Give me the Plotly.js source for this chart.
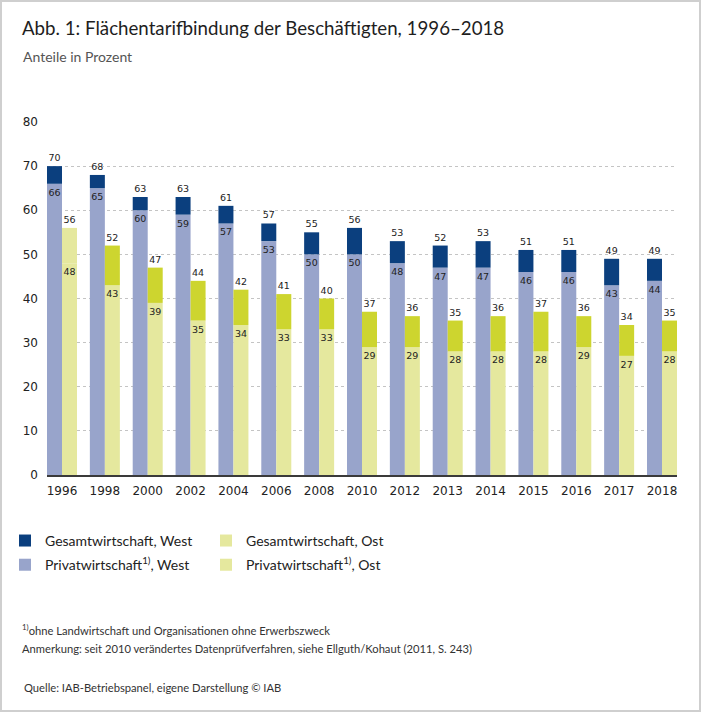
<!DOCTYPE html>
<html>
<head>
<meta charset="utf-8">
<script src="https://cdn.plot.ly/plotly-3.0.1.min.js"></script>
<style>
  html, body { margin: 0; padding: 0; background: #fff; }
  #wrap { position: relative; width: 701px; height: 712px; }
  #frame { position: absolute; left: 0; top: 0; width: 697px; height: 708px;
           border: 2px solid #cfcfcf; pointer-events: none; }
</style>
</head>
<body>
<div id="wrap">
  <div id="chart" style="width:701px;height:712px;"></div>
  <div id="frame"></div>
</div>
<script>
// Flächentarifbindung der Beschäftigten, Anteile in Prozent
const years = ['1996', '1998', '2000', '2002', '2004', '2006', '2008', '2010',
               '2012', '2013', '2014', '2015', '2016', '2017', '2018'];
const gesamtWest = [70, 68, 63, 63, 61, 57, 55, 56, 53, 52, 53, 51, 51, 49, 49];
const privatWest = [66, 65, 60, 59, 57, 53, 50, 50, 48, 47, 47, 46, 46, 43, 44];
const gesamtOst  = [56, 52, 47, 44, 42, 41, 40, 37, 36, 35, 36, 37, 36, 34, 35];
const privatOst  = [48, 43, 39, 35, 34, 33, 33, 29, 29, 28, 28, 28, 29, 27, 28];
const yTicks = [0, 10, 20, 30, 40, 50, 60, 70, 80];

const NAVY = '#0b3f7e';
const LILAC = '#98a4cb';
const LIME = '#cdd52f';
const PALE = '#e5e89e';

const sans = 'Lato, "Noto Sans", sans-serif';
const num = '"DejaVu Sans", sans-serif';

// plot area in pixels
const L = 47, R = 677, T = 121.5, B = 475;
const px = x => (x - L) / (R - L);
const py = y => (B - y) / (B - T);

const labelFont = { family: num, size: 9.5, color: '#222' };

function diff(a, b) {
  return a.map((v, i) => v - b[i]);
}

const common = {
  type: 'bar',
  x: years,
  hoverinfo: 'skip',
  textangle: 0,
  constraintext: 'none',
  cliponaxis: false,
  textfont: labelFont,
  insidetextfont: labelFont,
  outsidetextfont: labelFont
};

const traces = [
  Object.assign({}, common, {
    name: 'Privatwirtschaft<sup>1)</sup>, West',
    y: privatWest, offsetgroup: 'west',
    marker: { color: LILAC },
    text: privatWest.map(String), textposition: 'inside', insidetextanchor: 'end',
    legend: 'legend', legendgroup: 'pw', legendrank: 2
  }),
  Object.assign({}, common, {
    name: 'Gesamtwirtschaft, West',
    y: diff(gesamtWest, privatWest), base: privatWest, offsetgroup: 'west',
    marker: { color: NAVY },
    text: gesamtWest.map(String), textposition: 'outside',
    legend: 'legend', legendgroup: 'gw', legendrank: 1
  }),
  Object.assign({}, common, {
    name: 'Privatwirtschaft<sup>1)</sup>, Ost',
    y: privatOst, offsetgroup: 'ost',
    marker: { color: PALE },
    text: privatOst.map(String), textposition: 'inside', insidetextanchor: 'end',
    legend: 'legend2', legendgroup: 'po', legendrank: 2
  }),
  Object.assign({}, common, {
    name: 'Gesamtwirtschaft, Ost',
    y: diff(gesamtOst, privatOst), base: privatOst, offsetgroup: 'ost',
    // 1996 has no separate segment in the original figure
    marker: { color: years.map(y => y === '1996' ? PALE : LIME) },
    text: gesamtOst.map(String), textposition: 'outside',
    legend: 'legend2', legendgroup: 'go', legendrank: 1
  }),
  // invisible trace just to carry the dotted grid
  { type: 'scatter', x: [years[0]], y: [0], yaxis: 'y2', mode: 'markers',
    marker: { opacity: 0 }, showlegend: false, hoverinfo: 'skip' }
];

const legendBase = {
  orientation: 'v',
  font: { family: sans, size: 14, color: '#222' },
  bgcolor: 'rgba(0,0,0,0)',
  yanchor: 'top',
  xanchor: 'left',
  tracegroupgap: 3,
  traceorder: 'grouped',
  itemclick: false,
  itemdoubleclick: false
};

const layout = {
  width: 701,
  height: 712,
  margin: { l: L, r: 701 - R, t: T, b: 712 - B, pad: 0, autoexpand: false },
  paper_bgcolor: '#fff',
  plot_bgcolor: '#fff',
  font: { family: sans, color: '#222' },
  showlegend: true,
  barmode: 'group',
  bargap: 0.3,
  bargroupgap: 0,
  title: {
    text: 'Abb. 1: Flächentarifbindung der Beschäftigten, 1996–2018',
    font: { family: sans, size: 18.7, color: '#1e1e1e' },
    xref: 'container', yref: 'container',
    x: 22 / 701, xanchor: 'left',
    y: 1 - 28 / 712, yanchor: 'middle'
  },
  xaxis: {
    type: 'category',
    range: [-0.35, years.length - 1 + 0.35],
    showgrid: false,
    showline: true, linecolor: '#3a3a3a', linewidth: 1.5,
    ticks: '',
    tickfont: { family: num, size: 12, color: '#222' },
    ticklabelstandoff: 4,
    fixedrange: true
  },
  yaxis: {
    range: [0, 80],
    tickvals: yTicks,
    showgrid: false,
    zeroline: false,
    showline: false,
    ticks: '',
    tickfont: { family: num, size: 12, color: '#222' },
    ticklabelstandoff: 8,
    fixedrange: true
  },
  yaxis2: {
    overlaying: 'y',
    range: [0, 80],
    tickvals: yTicks.slice(1, -1),
    showticklabels: false,
    showgrid: true,
    gridcolor: '#c4c4c4',
    griddash: 'dot',
    gridwidth: 1,
    zeroline: false,
    fixedrange: true
  },
  legend: Object.assign({}, legendBase, { x: px(5), y: py(525) }),
  legend2: Object.assign({}, legendBase, { x: px(206), y: py(525) }),
  annotations: [
    { text: 'Anteile in Prozent', x: px(21), y: py(56),
      font: { family: sans, size: 14, color: '#555' } },
    { text: '<sup>1)</sup>ohne Landwirtschaft und Organisationen ohne Erwerbszweck',
      x: px(20), y: py(630), font: { family: sans, size: 11.2, color: '#333' } },
    { text: 'Anmerkung: seit 2010 verändertes Datenprüfverfahren, siehe Ellguth/Kohaut (2011, S. 243)',
      x: px(20), y: py(649), font: { family: sans, size: 11.2, color: '#333' } },
    { text: 'Quelle: IAB-Betriebspanel, eigene Darstellung © IAB',
      x: px(22), y: py(688), font: { family: sans, size: 11.2, color: '#333' } }
  ].map(a => Object.assign({ xref: 'paper', yref: 'paper', xanchor: 'left',
                             yanchor: 'middle', showarrow: false }, a))
};

Plotly.newPlot('chart', traces, layout, { displayModeBar: false, staticPlot: true });
</script>
</body>
</html>
